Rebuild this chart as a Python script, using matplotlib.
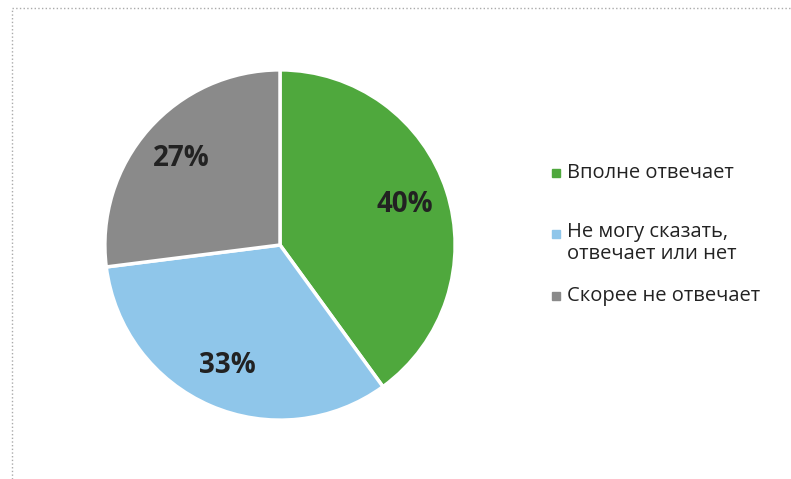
import matplotlib.pyplot as plt
from matplotlib.lines import Line2D
from matplotlib.patches import Rectangle

labels = ["Вполне отвечает", "Не могу сказать,\nотвечает или нет", "Скорее не отвечает"]
values = [40, 33, 27]
colors = ["#4fa83d", "#8fc6ea", "#8a8a8a"]

plt.rcParams['font.family'] = ['Open Sans', 'DejaVu Sans']

W, H = 791, 479
fig = plt.figure(figsize=(W / 100, H / 100), dpi=100)

# pie area: center (280, 245) px, radius 175 px
cx, cy, r = 280, 245, 176
ax = fig.add_axes([(cx - r) / W, (H - cy - r) / H, 2 * r / W, 2 * r / H])
wedges, texts, autotexts = ax.pie(values, colors=colors, startangle=90, counterclock=False,
                                  autopct='%d%%', pctdistance=0.75,
                                  wedgeprops=dict(edgecolor='white', linewidth=2.5))
for t in autotexts:
    t.set(fontsize=20, fontweight='bold', color='#222222')
ax.set_xlim(-1.005, 1.005)
ax.set_ylim(-1.005, 1.005)
ax.set_aspect('equal')

# legend, drawn by hand so the marker sits on the first line of a two-line label
ys = [173, 234, 296]
for lab, col, y in zip(labels, colors, ys):
    fig.add_artist(Rectangle((552 / W, (H - y - 4) / H), 8 / W, 8 / H,
                             transform=fig.transFigure, color=col))
    if '\n' in lab:
        fig.text(567 / W, (H - y + 12) / H, lab, fontsize=14.5, color='#222222',
                 va='top', linespacing=1.15, transform=fig.transFigure)
    else:
        fig.text(567 / W, (H - y) / H, lab, fontsize=14.5, color='#222222',
                 va='center', transform=fig.transFigure)

# dotted frame (top and left only)
fig.add_artist(Line2D([12 / W, 1], [1 - 8 / H, 1 - 8 / H], transform=fig.transFigure,
                      color='#aaaaaa', linestyle=':', linewidth=1))
fig.add_artist(Line2D([12 / W, 12 / W], [0, 1 - 8 / H], transform=fig.transFigure,
                      color='#aaaaaa', linestyle=':', linewidth=1))

plt.savefig("out.png", dpi=100)
